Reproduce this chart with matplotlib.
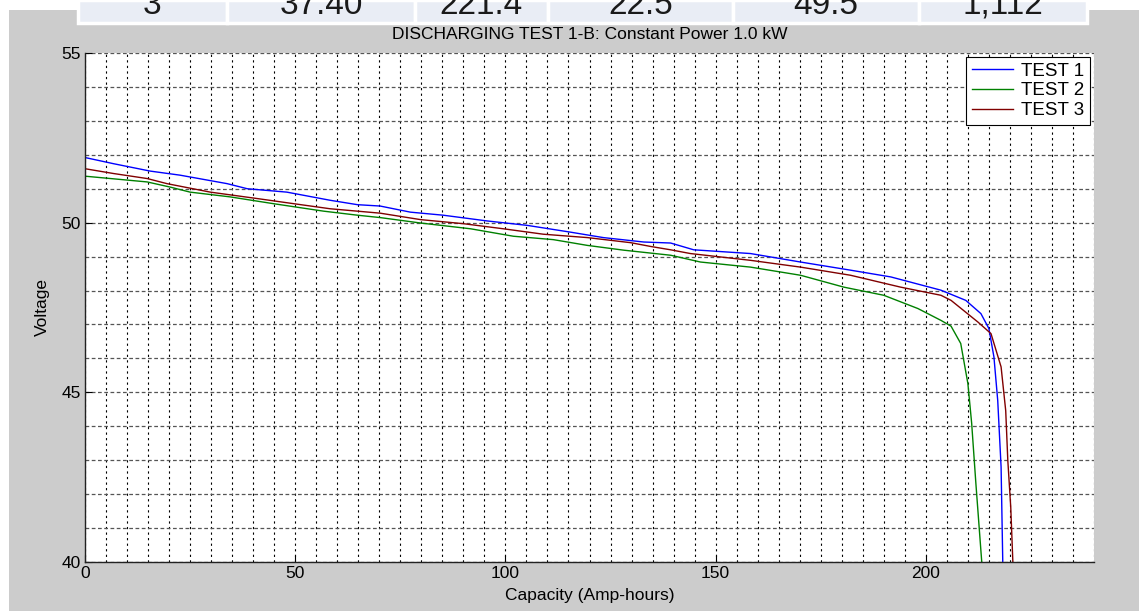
import matplotlib
matplotlib.use("Agg")
import matplotlib.pyplot as plt
from matplotlib.patches import Rectangle
from matplotlib.ticker import MultipleLocator

plt.rcParams['font.family'] = ['Liberation Sans', 'DejaVu Sans']

# row of the table that sits above the chart (cut off at the top)
table_values = ["3", "37.40", "221.4", "22.5", "49.5", "1,112"]

# TEST 1 (blue)
cap1 = [0, 6.7, 15.5, 22.6, 33.8, 38.6, 48, 58.3, 64.8, 70.2, 77.4, 85.2, 95.7,
        105.2, 115.5, 123.3, 132.9, 139.3, 144.8, 158.3, 170.2, 182.1, 191.7,
        203.6, 209.5, 213.1, 215, 216.2, 217.1, 217.9, 218.3]
volt1 = [51.92, 51.74, 51.52, 51.40, 51.15, 51.0, 50.90, 50.66, 50.53, 50.49,
         50.31, 50.22, 50.05, 49.92, 49.72, 49.56, 49.43, 49.40, 49.2, 49.09,
         48.84, 48.6, 48.4, 48.01, 47.71, 47.32, 46.88, 46.04, 44.76, 42.80, 40.0]

# TEST 2 (green)
cap2 = [0, 14.8, 20.2, 25, 34.5, 44.8, 56.7, 64.8, 70.2, 79.8, 91.7, 101.9,
        111.4, 119.5, 128.1, 139.3, 146.4, 158.3, 170.2, 180.5, 190, 198.1,
        203.6, 206, 208.3, 210, 210.9, 211.9, 213.3]
volt2 = [51.37, 51.2, 51.05, 50.90, 50.76, 50.56, 50.34, 50.22, 50.15, 49.99,
         49.82, 49.6, 49.5, 49.33, 49.19, 49.04, 48.84, 48.69, 48.45, 48.1,
         47.86, 47.47, 47.12, 46.95, 46.44, 45.26, 44.09, 42.32, 40.0]

# TEST 3 (dark red)
cap3 = [0, 6.7, 14.8, 19.5, 29.8, 41, 49.6, 58.3, 70.2, 79.8, 90, 99.5, 109,
        119.5, 129.8, 134.5, 139.3, 144, 158.3, 170.2, 182.1, 194, 203.6, 206,
        212.4, 215.5, 217.9, 219, 219.5, 220.2, 220.7]
volt3 = [51.59, 51.45, 51.30, 51.15, 50.90, 50.71, 50.56, 50.41, 50.28, 50.09,
         49.97, 49.82, 49.66, 49.56, 49.41, 49.30, 49.2, 49.09, 48.89, 48.69,
         48.45, 48.10, 47.86, 47.71, 47.07, 46.73, 45.75, 44.46, 42.99, 41.61, 40.0]

W, H = 1139, 611
fig = plt.figure(figsize=(W / 100, H / 100), dpi=100, facecolor='white')

# grey figure area (MATLAB window)
fig.patches.append(Rectangle((9 / W, 0), 1, 1 - 10 / H, transform=fig.transFigure,
                             facecolor='#cccccc', edgecolor='none', zorder=-2))

# table strip at the top
col_edges = [78, 227, 415, 548, 733, 919, 1087]
for i, val in enumerate(table_values):
    x0, x1 = col_edges[i], col_edges[i + 1]
    fig.patches.append(Rectangle((x0 / W, 1 - 23 / H), (x1 - x0) / W, 23 / H,
                                 transform=fig.transFigure, facecolor='#e9edf5',
                                 edgecolor='white', linewidth=2.5, zorder=-1))
    fig.text((x0 + x1) / 2 / W, 1 - 14 / H, val, ha='center', va='baseline',
             fontsize=24, color='#1a1a1a', zorder=2)

ax = fig.add_axes([85 / W, 1 - 562 / H, (1094 - 85) / W, (562 - 53) / H])
ax.set_zorder(3)
ax.set_facecolor('white')

ax.plot(cap1, volt1, color='#0000ff', linewidth=1.0, label='TEST 1')
ax.plot(cap2, volt2, color='#008000', linewidth=1.0, label='TEST 2')
ax.plot(cap3, volt3, color='#800000', linewidth=1.0, label='TEST 3')

ax.set_xlim(0, 240)
ax.set_ylim(40, 55)
ax.xaxis.set_major_locator(MultipleLocator(50))
ax.xaxis.set_minor_locator(MultipleLocator(5))
ax.yaxis.set_major_locator(MultipleLocator(5))
ax.yaxis.set_minor_locator(MultipleLocator(1))

ax.grid(which='both', axis='x', color='black', linestyle=(0, (2, 3)), linewidth=0.8)
ax.grid(which='both', axis='y', color='#555555', linestyle=(0, (3, 2)), linewidth=0.9)
ax.set_axisbelow(True)

for side in ['top', 'right']:
    ax.spines[side].set_visible(False)
for side in ['left', 'bottom']:
    ax.spines[side].set_color('#222222')
    ax.spines[side].set_linewidth(1.0)

ax.tick_params(which='major', direction='in', length=5, labelsize=12.5, pad=3)
ax.tick_params(which='minor', length=0)

ax.set_title('DISCHARGING TEST 1-B: Constant Power 1.0 kW', fontsize=12.5, pad=10)
ax.set_xlabel('Capacity (Amp-hours)', fontsize=12.5, labelpad=5)
ax.set_ylabel('Voltage', fontsize=12.5, labelpad=8)

leg = ax.legend(loc='upper right', fontsize=13.5, handlelength=2.2, handletextpad=0.45,
                borderaxespad=0.2, fancybox=False, framealpha=1, edgecolor='black',
                labelspacing=0.15, borderpad=0.3)
leg.get_frame().set_linewidth(0.8)

fig.savefig('out.png', dpi=100, facecolor=fig.get_facecolor())
